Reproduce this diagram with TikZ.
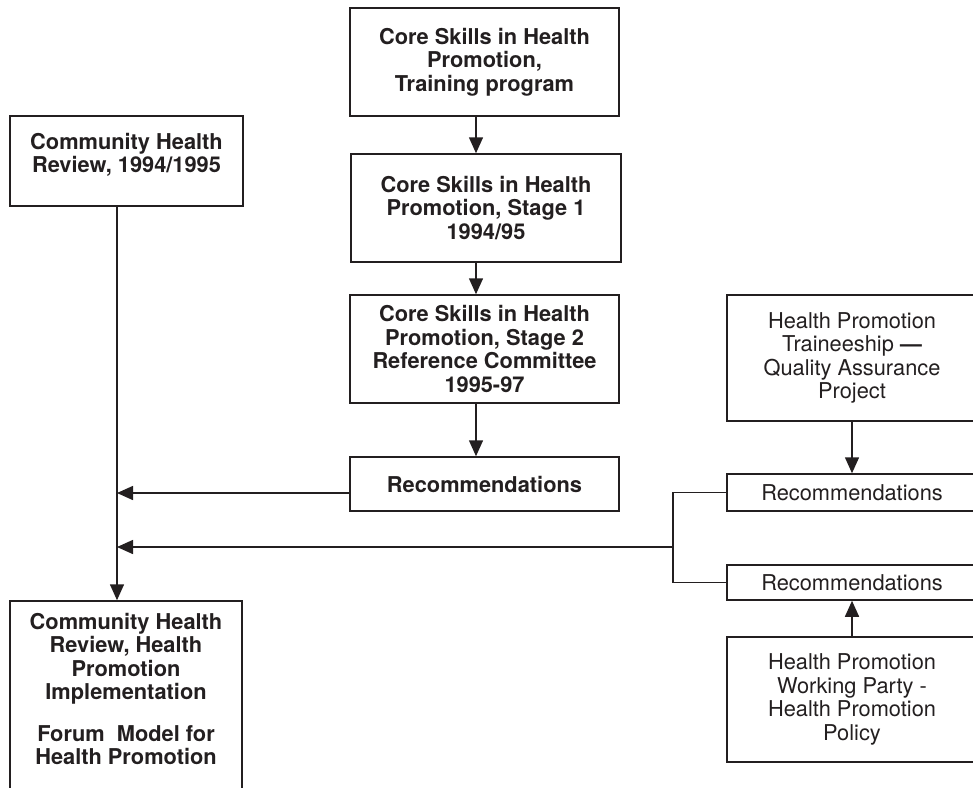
\documentclass[tikz,border=0pt]{standalone}
\usepackage{fontspec}
\setmainfont{TeX Gyre Heros}
\usetikzlibrary{arrows.meta,calc}
\definecolor{ink}{HTML}{231F20}
\tikzset{
  box/.style={draw=ink, line width=1.5pt, inner sep=0pt, align=center, text=ink,
              font=\fontsize{21.8}{23.5}\selectfont},
  bbox/.style={box, font=\fontsize{21.8}{23.5}\selectfont\bfseries},
  txt/.style={inner sep=0pt, align=center, text=ink, font=\fontsize{21.8}{23.5}\selectfont\bfseries},
  conn/.style={draw=ink, line width=1.5pt},
  arr/.style={conn, -{Triangle[length=16pt,width=14pt]}}
}
\begin{document}
\begin{tikzpicture}[x=1pt,y=-1pt]
\useasboundingbox (0,0) rectangle (973,787);
\clip (0,0) rectangle (973,787);
% centre column
\node[bbox, minimum width=269pt, minimum height=108pt] (A) at (484.5,62)
  {Core Skills in Health\\Promotion,\\Training program};
\node[bbox, minimum width=270pt, minimum height=108pt] (B) at (486,208)
  {Core Skills in Health\\Promotion, Stage 1\\1994/95};
\node[bbox, minimum width=269pt, minimum height=108pt] (C) at (484.5,349)
  {Core Skills in Health\\Promotion, Stage 2\\Reference Committee\\1995-97};
\node[bbox, minimum width=269pt, minimum height=54pt] (D) at (484.5,484)
  {Recommendations};
% left column
\node[bbox, minimum width=233pt, minimum height=90pt] (E) at (126.5,161) {};
\node[txt] (Etext) at (126.5,155) {Community Health\\Review, 1994/1995};
\node[box, minimum width=232pt, minimum height=200pt] (F) at (126,701) {};
\node[txt, anchor=north] (Ftext) at (126,613)
  {Community Health\\Review, Health\\Promotion\\Implementation\\[18pt]Forum\ \ Model for\\Health Promotion};
% right column
\node[box, minimum width=250pt, minimum height=126pt] (G) at (852,358)
  {Health Promotion\\Traineeship \textbf{—}\\Quality Assurance\\Project};
\node[box, minimum width=250pt, minimum height=37pt] (R1) at (852,492.5) {Recommendations};
\node[box, minimum width=250pt, minimum height=35pt] (R2) at (852,582.5) {Recommendations};
\node[box, minimum width=250pt, minimum height=125pt] (H) at (852,699.5)
  {Health Promotion\\Working Party -\\Health Promotion\\Policy};
% helper coordinates
\coordinate (ax) at (476,0);
\coordinate (vx) at (117,0);
\coordinate (bx) at (673,547);
\coordinate (dl) at (350,493);
% connectors
\draw[arr] (A.south -| ax) -- (B.north -| ax);
\draw[arr] (B.south -| ax) -- (C.north -| ax);
\draw[arr] (C.south -| ax) -- (D.north -| ax);
\draw[arr] (E.south -| vx) -- (F.north -| vx);
\draw[arr] (dl) -- (dl -| vx);
\draw[conn] (R1.west) -| (bx) |- (R2.west);
\draw[arr] (bx) -- (bx -| vx);
\draw[arr] (G.south) -- (R1.north);
\draw[arr] (H.north) -- (R2.south);
\end{tikzpicture}
\end{document}
